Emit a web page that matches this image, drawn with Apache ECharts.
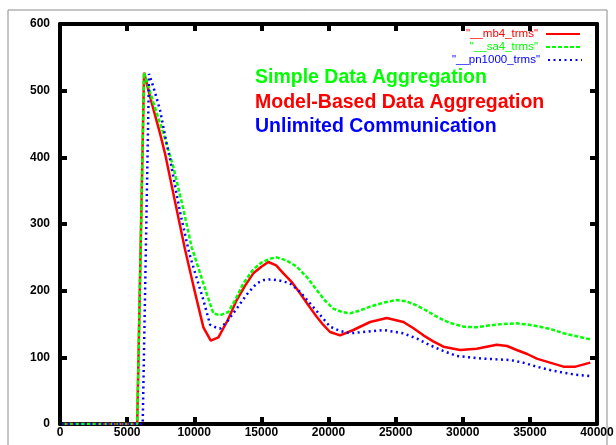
<!DOCTYPE html>
<html>
<head>
<meta charset="utf-8">
<script src="https://cdn.jsdelivr.net/npm/echarts@6/dist/echarts.min.js"></script>
<style>
    html, body { margin: 0; padding: 0; background: #fff; }
    #main { width: 616px; height: 445px; }
</style>
</head>
<body>
<div id="main"></div>
<script>
// 曲线数据
var mbName = '"__mb4_trms"';
var mbX = [200, 3000, 5750, 6260, 6800, 7450, 7820, 8500, 9310, 10000, 10680, 11230, 11800, 12500, 13160, 13800, 14400, 15000, 15520, 16100, 16640, 17300, 17880, 18500, 19120, 19600, 20115, 20860, 21850, 23100, 24340, 25580, 26300, 27070, 27800, 28560, 29800, 31040, 32530, 33300, 34020, 34800, 35510, 36500, 37500, 38400, 39500];
var mbY = [0, 0, 0, 527, 484, 436, 406, 340, 262, 202, 145, 125, 130, 156, 186, 208, 226, 236, 243, 238, 226, 212, 196, 178, 161, 149, 138, 133, 141, 153, 159, 153, 144, 133, 124, 116, 111, 113, 119, 117, 111, 105, 98, 92, 86, 86, 92];

var saName = '"__sa4_trms"';
var saX = [200, 3000, 5750, 6260, 7080, 7700, 8440, 9200, 9810, 10500, 11000, 11420, 11920, 12540, 13100, 13660, 14400, 15000, 15650, 16140, 16900, 17630, 18400, 19120, 19700, 20360, 21000, 21600, 22300, 23100, 24100, 25080, 25800, 26570, 27300, 28060, 29000, 30050, 31000, 32030, 33000, 34020, 34900, 35760, 36600, 37500, 38400, 39500];
var saY = [0, 0, 0, 527, 474, 436, 386, 321, 265, 222, 191, 166, 163, 168, 188, 211, 232, 242, 248, 250, 245, 236, 220, 201, 186, 173, 168, 166, 170, 176, 182, 186, 184, 178, 170, 161, 152, 146, 145, 148, 150, 151, 149, 146, 142, 136, 132, 127];

var pnName = '"__pn1000_trms"';
var pnX = [200, 3000, 6160, 6630, 6950, 7450, 7950, 8200, 8940, 9630, 10100, 10680, 11180, 11600, 11920, 12500, 13160, 13900, 14650, 15200, 15770, 16400, 17130, 17900, 18620, 19400, 20115, 20800, 21600, 22600, 24090, 25580, 26600, 27570, 28500, 29550, 30500, 31540, 32500, 33530, 34500, 35510, 36500, 37500, 38400, 39500];
var pnY = [0, 0, 0, 525, 506, 471, 420, 397, 318, 256, 224, 186, 149, 145, 143, 155, 173, 194, 211, 216, 217, 215, 211, 198, 181, 163, 146, 140, 136, 138, 141, 136, 128, 118, 110, 102, 100, 98, 97, 96, 92, 86, 81, 77, 74, 72];

// 图中的三行说明文字
var notes = ['Simple Data Aggregation', 'Model-Based Data Aggregation', 'Unlimited Communication'];
var noteColors = ['#00ff00', '#ff0000', '#0000ff'];

var FONT = '"Liberation Sans", Arial, Helvetica, sans-serif';

function pairs(xs, ys) {
    var out = [];
    for (var i = 0; i < xs.length; i++) {
        out.push([xs[i], ys[i]]);
    }
    return out;
}

// 坐标轴（上/右为镜像轴，只画刻度）
function axis(pos, min, max, interval, showLabel, margin) {
    return {
        type: 'value',
        position: pos,
        min: min,
        max: max,
        interval: interval,
        axisLine: { show: true, onZero: false, lineStyle: { color: '#000', width: 4 } },
        axisTick: { show: true, inside: true, length: 7, lineStyle: { color: '#000', width: 4 } },
        axisLabel: {
            show: showLabel,
            color: '#000',
            fontWeight: 'bold',
            fontSize: 12,
            fontFamily: FONT,
            margin: margin,
            showMinLabel: true,
            showMaxLabel: true,
            formatter: function (v) { return String(v); }
        },
        splitLine: { show: false }
    };
}

function legendFor(name, color, right, top) {
    return {
        data: [{ name: name, textStyle: { color: color } }],
        right: right,
        top: top,
        padding: 0,
        align: 'right',
        itemWidth: 34,
        itemHeight: 10,
        selectedMode: false,
        itemStyle: { opacity: 0 },
        textStyle: { fontSize: 11.5, fontFamily: FONT, padding: [0, 3, 0, 0] }
    };
}

var chart = echarts.init(document.getElementById('main'), null, { renderer: 'canvas' });

var texts = [];
for (var i = 0; i < notes.length; i++) {
    texts.push({
        type: 'text',
        left: 255,
        top: 68 + i * 24.5,
        style: {
            text: notes[i],
            fill: noteColors[i],
            font: 'bold 19.5px ' + FONT
        }
    });
}
texts.push({
    type: 'rect',
    shape: { x: 8, y: 10, width: 599, height: 470 },
    style: { fill: null, stroke: '#8c8c8c', lineWidth: 1 },
    z: -1
});

var option = {
    animation: false,
    backgroundColor: '#fff',
    grid: { left: 60, right: 19, top: 24, bottom: 21, outerBoundsMode: 'none' },
    xAxis: [axis('bottom', 0, 40000, 5000, true, 3), axis('top', 0, 40000, 5000, false, 3)],
    yAxis: [axis('left', 0, 600, 100, true, 10), axis('right', 0, 600, 100, false, 8)],
    legend: [
        legendFor(mbName, '#ff0000', 35, 28),
        legendFor(saName, '#00ff00', 35, 41),
        legendFor(pnName, '#0000ff', 33, 54)
    ],
    graphic: texts,
    series: [{
        name: mbName,
        type: 'line',
        symbol: 'none',
        color: '#ff0000',
        lineStyle: { width: 2.5, color: '#ff0000' },
        data: pairs(mbX, mbY)
    }, {
        name: saName,
        type: 'line',
        symbol: 'none',
        color: '#00ff00',
        lineStyle: { width: 2.5, color: '#00ff00', type: [4, 2] },
        data: pairs(saX, saY)
    }, {
        name: pnName,
        type: 'line',
        symbol: 'none',
        color: '#0000ff',
        lineStyle: { width: 2.5, color: '#0000ff', type: [2, 3.5] },
        data: pairs(pnX, pnY)
    }]
};

chart.setOption(option);
</script>
</body>
</html>
